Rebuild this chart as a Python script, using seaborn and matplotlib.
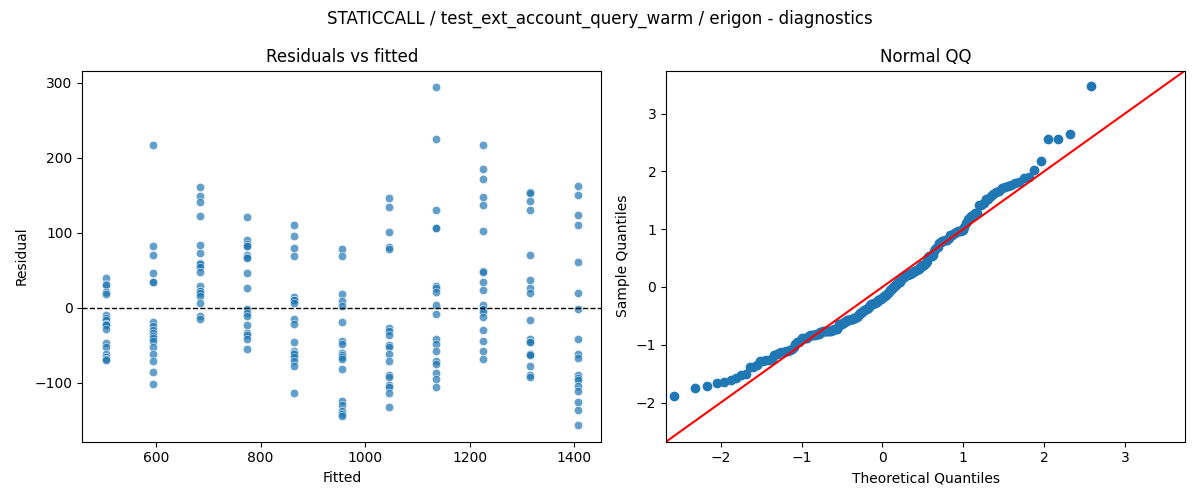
import numpy as np
import pandas as pd
import matplotlib
matplotlib.use("Agg")
import matplotlib.pyplot as plt
import seaborn as sns
from statistics import NormalDist

# Fitted value of each group
fitted_levels = [504, 594, 684, 775, 865, 955, 1045, 1136, 1226, 1316, 1407]

# Residuals, one list per fitted level
res_504 = [40, 32, 31, 21, 18, -9, -13, -16, -21, -22, -23, -28, -47, -52, -62, -66, -68, -69]
res_594 = [217, 83, 70, 46, 35, 34, -19, -24, -30, -34, -37, -40, -44, -52, -61, -71, -85, -102]
res_684 = [161, 149, 141, 122, 84, 73, 60, 58, 55, 48, 29, 22, 22, 20, 16, 7, -11, -15]
res_775 = [121, 90, 85, 83, 82, 71, 68, 66, 47, 27, -2, -7, -11, -23, -33, -36, -41, -55]
res_865 = [110, 96, 80, 69, 14, 10, 10, 7, -15, -21, -45, -58, -60, -62, -66, -71, -78, -114]
res_955 = [78, 69, 19, 9, 2, -19, -44, -48, -60, -63, -66, -68, -81, -124, -129, -137, -141, -144]
res_1045 = [146, 134, 101, 81, 78, -27, -31, -36, -50, -52, -61, -71, -90, -92, -103, -105, -114, -132]
res_1136 = [294, 225, 130, 107, 106, 29, 26, 21, 4, -8, -42, -48, -58, -71, -75, -87, -95, -105]
res_1226 = [217, 185, 172, 148, 137, 102, 49, 48, 35, 24, 4, -1, -5, -12, -29, -44, -58, -68]
res_1316 = [155, 153, 142, 130, 71, 37, 26, 20, -16, -42, -45, -45, -62, -62, -63, -78, -89, -92]
res_1407 = [162, 150, 124, 110, 61, 20, -1, -41, -61, -67, -90, -93, -96, -104, -111, -125, -136, -156]

residual_groups = [res_504, res_594, res_684, res_775, res_865, res_955,
                   res_1045, res_1136, res_1226, res_1316, res_1407]

title = "STATICCALL / test_ext_account_query_warm / erigon - diagnostics"

rows = []
for f, grp in zip(fitted_levels, residual_groups):
    for r in grp:
        rows.append({"fitted": f, "residual": r})
df = pd.DataFrame(rows)

# Normal QQ: standardized ordered residuals vs normal quantiles
resid = np.sort(df["residual"].to_numpy(dtype=float))
n = len(resid)
sample_q = (resid - resid.mean()) / resid.std()
nd = NormalDist()
theo_q = np.array([nd.inv_cdf(i / (n + 1)) for i in range(1, n + 1)])
qq = pd.DataFrame({"theoretical": theo_q, "sample": sample_q})

fig, (ax1, ax2) = plt.subplots(1, 2, figsize=(12, 5), dpi=100)

sns.scatterplot(data=df, x="fitted", y="residual", alpha=0.7, ax=ax1)
ax1.axhline(0, color="black", linestyle="--", linewidth=1)
ax1.set_title("Residuals vs fitted")
ax1.set_xlabel("Fitted")
ax1.set_ylabel("Residual")

ax2.set_xmargin(0.02)
sns.scatterplot(data=qq, x="theoretical", y="sample", s=36, color="#1f77b4",
                edgecolor="#1f77b4", linewidth=1, ax=ax2)
xl = ax2.get_xlim()
yl = ax2.get_ylim()
lo = min(xl[0], yl[0])
hi = max(xl[1], yl[1])
ax2.plot([lo, hi], [lo, hi], color="red")
ax2.set_xlim(lo, hi)
ax2.set_ylim(lo, hi)
ax2.set_title("Normal QQ")
ax2.set_xlabel("Theoretical Quantiles")
ax2.set_ylabel("Sample Quantiles")

fig.suptitle(title)
fig.tight_layout()
fig.savefig("out.png", dpi=100)
